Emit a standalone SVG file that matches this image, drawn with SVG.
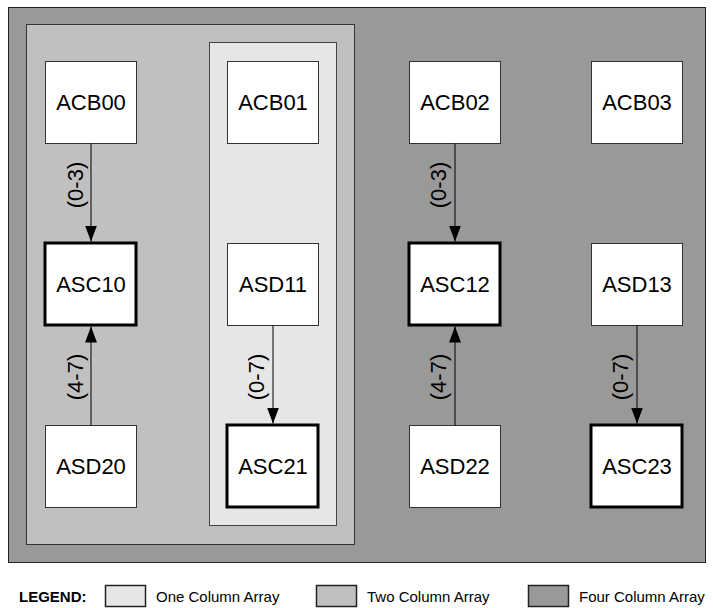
<svg xmlns="http://www.w3.org/2000/svg" width="713" height="608" viewBox="0 0 713 608">
<style>
text{font-family:"Liberation Sans",Arial,sans-serif;fill:#000}
.lbl{font-size:22px;text-anchor:middle}
.node{fill:#fff;stroke:#333;stroke-width:1}
.thick{fill:#fff;stroke:#000;stroke-width:3}
.conn{stroke:#000;stroke-width:1;fill:none;marker-end:url(#arr)}
.leg{font-size:15px}
.one{fill:#e6e6e6}
.two{fill:#c0c0c0}
.four{fill:#999}
</style>
<defs>
<marker id="arr" markerUnits="userSpaceOnUse" markerWidth="16" markerHeight="12" refX="16" refY="6" orient="auto">
<path d="M0,0 L16,6 L0,12 z" fill="#000"/>
</marker>
</defs>
<rect width="713" height="608" fill="#fff"/>
<g id="four-column-array"><rect x="8.5" y="7.5" width="697" height="555" class="four" stroke="#222"/></g>
<g id="two-column-array"><rect x="26.5" y="24.5" width="328" height="520" class="two" stroke="#333"/></g>
<g id="one-column-array"><rect x="209.5" y="42.5" width="127" height="483" class="one" stroke="#444"/></g>

<g id="ACB00"><rect x="45.5" y="61.5" width="91" height="82" class="node"/><text class="lbl" x="91" y="109.5">ACB00</text></g>
<g id="ACB01"><rect x="227.5" y="61.5" width="91" height="82" class="node"/><text class="lbl" x="273" y="109.5">ACB01</text></g>
<g id="ACB02"><rect x="409.5" y="61.5" width="91" height="82" class="node"/><text class="lbl" x="455" y="109.5">ACB02</text></g>
<g id="ACB03"><rect x="591.5" y="61.5" width="91" height="82" class="node"/><text class="lbl" x="637" y="109.5">ACB03</text></g>

<g id="ASC10"><rect x="45" y="243" width="91" height="82" class="thick"/><text class="lbl" x="91" y="291.5">ASC10</text></g>
<g id="ASD11"><rect x="227.5" y="243.5" width="91" height="82" class="node"/><text class="lbl" x="273" y="291.5">ASD11</text></g>
<g id="ASC12"><rect x="409" y="243" width="91" height="82" class="thick"/><text class="lbl" x="455" y="291.5">ASC12</text></g>
<g id="ASD13"><rect x="591.5" y="243.5" width="91" height="82" class="node"/><text class="lbl" x="637" y="291.5">ASD13</text></g>

<g id="ASD20"><rect x="45.5" y="425.5" width="91" height="82" class="node"/><text class="lbl" x="91" y="473.5">ASD20</text></g>
<g id="ASC21"><rect x="227" y="425" width="91" height="82" class="thick"/><text class="lbl" x="273" y="473.5">ASC21</text></g>
<g id="ASD22"><rect x="409.5" y="425.5" width="91" height="82" class="node"/><text class="lbl" x="455" y="473.5">ASD22</text></g>
<g id="ASC23"><rect x="591" y="425" width="91" height="82" class="thick"/><text class="lbl" x="637" y="473.5">ASC23</text></g>

<g id="connectors">
<line class="conn" x1="91" y1="143.5" x2="91" y2="241.5"/>
<line class="conn" x1="91" y1="425.5" x2="91" y2="326.5"/>
<line class="conn" x1="273" y1="325.5" x2="273" y2="423.5"/>
<line class="conn" x1="455" y1="143.5" x2="455" y2="241.5"/>
<line class="conn" x1="455" y1="425.5" x2="455" y2="326.5"/>
<line class="conn" x1="637" y1="325.5" x2="637" y2="423.5"/>
<text class="lbl" transform="translate(82.5,185) rotate(-90)">(0-3)</text>
<text class="lbl" transform="translate(82.5,377) rotate(-90)">(4-7)</text>
<text class="lbl" transform="translate(264,377) rotate(-90)">(0-7)</text>
<text class="lbl" transform="translate(446,185) rotate(-90)">(0-3)</text>
<text class="lbl" transform="translate(446,377) rotate(-90)">(4-7)</text>
<text class="lbl" transform="translate(628,377) rotate(-90)">(0-7)</text>
</g>

<g id="legend">
<text class="leg" x="19" y="601.5" font-weight="bold">LEGEND:</text>
<rect x="105.5" y="585.5" width="40" height="21" class="one" stroke="#222" stroke-width="1.5"/>
<text class="leg" x="156" y="601.5">One Column Array</text>
<rect x="316.5" y="585.5" width="40" height="21" class="two" stroke="#222" stroke-width="1.5"/>
<text class="leg" x="367" y="601.5">Two Column Array</text>
<rect x="528.5" y="585.5" width="40" height="21" class="four" stroke="#222" stroke-width="1.5"/>
<text class="leg" x="579" y="601.5">Four Column Array</text>
</g>
</svg>
